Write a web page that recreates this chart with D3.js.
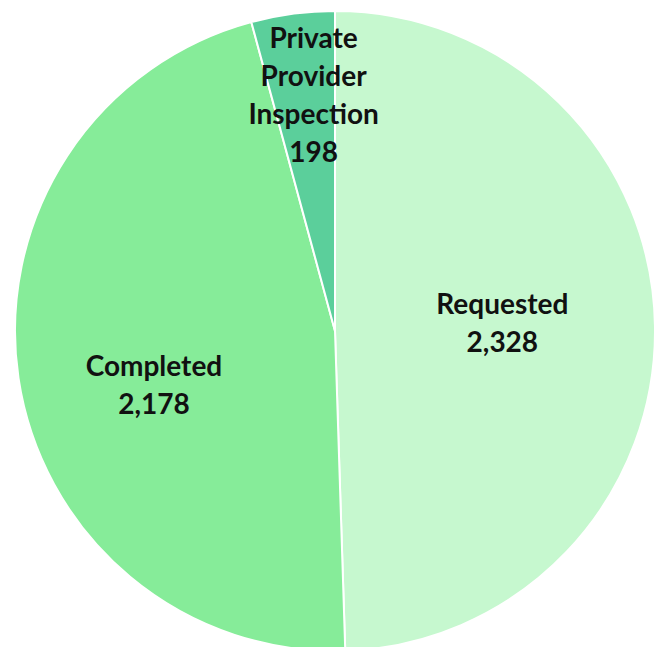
<!DOCTYPE html>
<html>
<head>
<meta charset="utf-8">
<script src="https://cdn.jsdelivr.net/npm/d3@7"></script>
<style>
  html, body { margin: 0; padding: 0; background: #fff; }
  svg { display: block; }
</style>
</head>
<body>
<div id="chart"></div>
<script>
// data
const categories = ['Requested', 'Completed', 'Private Provider Inspection'];
const values = [2328, 2178, 198];
const labelLines = [['Requested'], ['Completed'], ['Private', 'Provider', 'Inspection']];
const colors = ['#c6f8cf', '#86ec99', '#5bcf9b'];

// layout
const width = 662;
const height = 647;
const cx = 335;
const cy = 331;
const radius = 320;
const lineHeight = 38;
// label radius as a share of the pie radius, plus small nudges (px)
const labelK = [0.523, 0.572, 0.744];
const labelNudge = [[0, -5], [0, 27], [10, 0]];

const fmt = d3.format(',');

const svg = d3.select('#chart')
  .append('svg')
  .attr('width', width)
  .attr('height', height);

const g = svg.append('g')
  .attr('transform', 'translate(' + cx + ',' + cy + ')');

const pie = d3.pie()
  .sort(null)
  .value(d => d.value);

const data = categories.map((c, i) => ({ name: c, value: values[i], idx: i }));
const arcs = pie(data);

const arc = d3.arc()
  .innerRadius(0)
  .outerRadius(radius);

g.selectAll('path')
  .data(arcs)
  .enter()
  .append('path')
  .attr('d', arc)
  .style('fill', d => colors[d.data.idx])
  .style('stroke', '#ffffff')
  .style('stroke-width', 2);

const labels = g.selectAll('text.lbl')
  .data(arcs)
  .enter()
  .append('text')
  .attr('class', 'lbl')
  .attr('transform', d => {
    const i = d.data.idx;
    const la = d3.arc().innerRadius(radius * labelK[i]).outerRadius(radius * labelK[i]);
    const c = la.centroid(d);
    return 'translate(' + (c[0] + labelNudge[i][0]) + ',' + (c[1] + labelNudge[i][1]) + ')';
  })
  .style('font-family', 'Lato, "Open Sans", sans-serif')
  .style('font-weight', 'bold')
  .style('font-size', '28px')
  .style('fill', '#111')
  .style('text-anchor', 'middle');

labels.each(function(d) {
  const lines = labelLines[d.data.idx].concat([fmt(d.data.value)]);
  const t = d3.select(this);
  const top = -(lines.length - 1) * lineHeight / 2;
  lines.forEach((ln, j) => {
    t.append('tspan')
      .attr('x', 0)
      .attr('y', top + j * lineHeight)
      .attr('dy', '0.36em')
      .text(ln);
  });
});
</script>
</body>
</html>
